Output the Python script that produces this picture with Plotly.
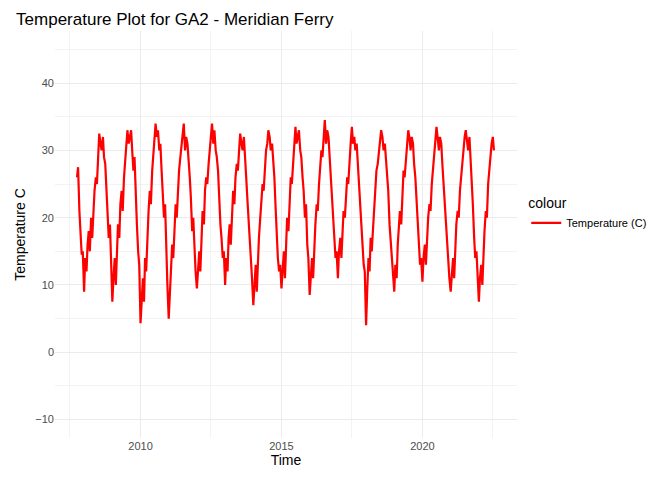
import pandas as pd
import plotly.graph_objects as go

# half-monthly readings
t2007 = [26, 27.5, 21, 17, 14.5, 15]
t2008 = [9.0, 14, 12, 16, 18, 15, 20, 17, 22, 24, 26, 25, 29, 32.5, 31, 30, 32, 29, 28, 25, 22, 17, 19, 12]
t2009 = [7.5, 11, 14, 10, 16, 19, 17, 22, 24, 21, 26, 28, 30, 33, 31, 32, 33, 30, 27, 29, 22, 19, 15, 13]
t2010 = [4.3, 8, 11, 7.5, 14, 12, 18, 21, 24, 22, 27, 29, 31, 34, 32, 33, 30, 31, 27, 24, 20, 22, 14, 10]
t2011 = [5, 9, 12, 16, 14, 19, 22, 20, 25, 27, 29, 31, 33, 34, 30, 32, 31, 29, 26, 23, 18, 20, 15, 12]
t2012 = [9.5, 13, 15, 12, 18, 21, 19, 24, 26, 25, 28, 30, 32, 34, 31, 33, 30, 29, 27, 22, 19, 17, 14, 15]
t2013 = [10, 14, 12, 17, 19, 16, 21, 24, 22, 26, 28, 27, 30, 32.5, 31, 30, 32, 28, 26, 23, 20, 16, 13, 11]
t2014 = [7, 10, 13, 9, 15, 17, 20, 22, 25, 24, 28, 30, 31, 33, 32, 30, 31, 29, 26, 22, 17, 14, 12, 13]
t2015 = [9.5, 12, 15, 11, 17, 20, 18, 23, 26, 25, 28, 30, 33.5, 31, 32, 33, 30, 29, 26, 24, 20, 22, 16, 14]
t2016 = [8.5, 12, 14, 11, 17, 19, 22, 21, 25, 27, 30, 29, 32, 34.5, 31, 33, 32, 29, 27, 23, 19, 16, 14, 15]
t2017 = [11, 15, 17, 14, 19, 21, 20, 24, 26, 25, 29, 31, 33.5, 31, 32, 30, 31, 28, 26, 22, 18, 15, 13, 12]
t2018 = [4, 9, 14, 12, 17, 15, 19, 22, 25, 27, 28, 30, 31, 33, 32, 30, 31, 29, 27, 24, 19, 17, 14, 12]
t2019 = [9, 13, 11, 16, 18, 21, 19, 24, 27, 26, 29, 31, 33, 32, 30, 32, 31, 28, 26, 23, 19, 16, 13, 14]
t2020 = [10.5, 14, 16, 13, 18, 20, 22, 21, 25, 27, 29, 31, 33.5, 32, 30, 32, 31, 28, 25, 22, 19, 15, 13, 11]
t2021 = [9, 12, 14, 11, 16, 19, 21, 20, 24, 26, 28, 30, 32, 33, 31, 30, 32, 29, 26, 22, 17, 14, 15, 12]
t2022 = [7.5, 11, 13, 10, 16, 18, 21, 20, 25, 27, 29, 31, 32, 30]

temp = (t2007 + t2008 + t2009 + t2010 + t2011 + t2012 + t2013 + t2014 + t2015
        + t2016 + t2017 + t2018 + t2019 + t2020 + t2021 + t2022)
dates = pd.date_range("2007-10-01", periods=len(temp), freq="SMS")

xticks = ["2010-01-01", "2015-01-01", "2020-01-01"]
xlabels = ["2010", "2015", "2020"]

fig = go.Figure()
fig.add_trace(go.Scatter(x=dates, y=temp, mode="lines", name="Temperature (C)",
                         line=dict(color="#ff0000", width=2.2)))

fig.update_layout(
    width=672, height=480,
    plot_bgcolor="white", paper_bgcolor="white",
    margin=dict(l=40, r=163, t=23, b=50),
    font=dict(family="Liberation Sans, Arial", color="#000000"),
    title=dict(text="Temperature Plot for GA2 - Meridian Ferry", x=0.012, xanchor="left",
               y=0.99, yanchor="top", font=dict(size=17)),
    xaxis=dict(title=dict(text="Time", font=dict(size=14), standoff=4),
               range=["2006-12-20", "2023-05-10"],
               tickvals=xticks, ticktext=xlabels, tickfont=dict(size=11, color="#4d4d4d"),
               showgrid=True, gridcolor="#ebebeb", gridwidth=1.2, zeroline=False,
               minor=dict(tick0="2007-07-01", dtick="M60", showgrid=True,
                          gridcolor="#f3f3f3", gridwidth=0.6)),
    yaxis=dict(title=dict(text="Temperature C", font=dict(size=14), standoff=6),
               range=[-12.75, 47.75], tickvals=[-10, 0, 10, 20, 30, 40],
               tickfont=dict(size=11, color="#4d4d4d"),
               showgrid=True, gridcolor="#ebebeb", gridwidth=1.2, zeroline=False,
               minor=dict(tick0=-5, dtick=10, showgrid=True,
                          gridcolor="#f3f3f3", gridwidth=0.6)),
    showlegend=True,
    legend=dict(title=dict(text="colour", font=dict(size=14)), font=dict(size=11),
                x=1.02, xanchor="left", y=0.55, yanchor="middle"),
)

fig.write_html("out.html")
